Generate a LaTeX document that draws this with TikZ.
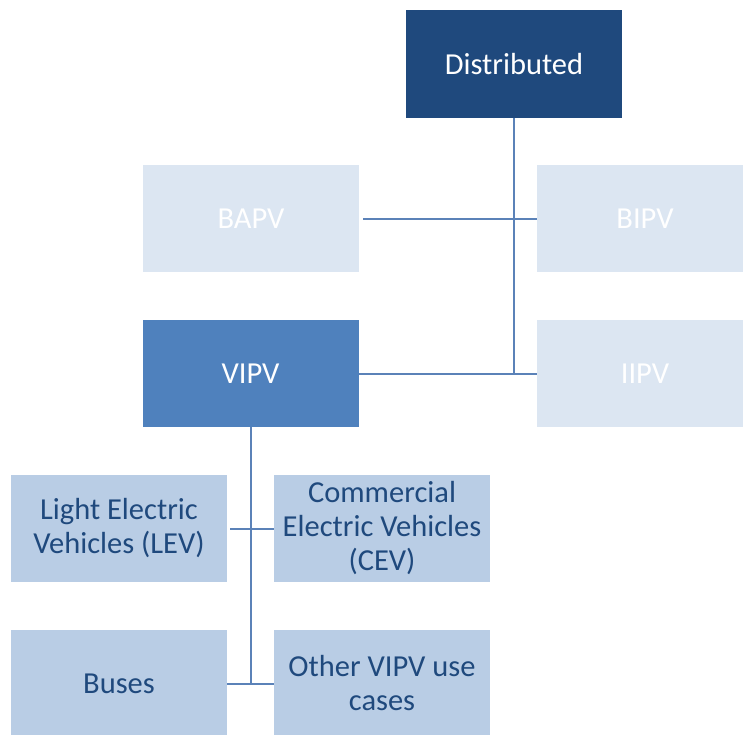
\documentclass[tikz,border=0pt]{standalone}
\usepackage{fontspec}
\setmainfont{Carlito}
\definecolor{navy}{HTML}{1F497D}
\definecolor{midblue}{HTML}{4F81BD}
\definecolor{paleblue}{HTML}{DCE6F2}
\definecolor{softblue}{HTML}{B9CDE5}
\definecolor{linkblue}{HTML}{5B82B8}
\begin{document}
\begin{tikzpicture}[x=1pt,y=-1pt,
  box/.style={rectangle, inner sep=4pt, minimum width=216pt, minimum height=107pt,
    align=center, font=\fontsize{30.5}{34}\selectfont},
  topbox/.style={box, fill=navy, text=white},
  vbox/.style={box, fill=midblue, text=white},
  ghost/.style={box, fill=paleblue, text=white},
  leaf/.style={box, fill=softblue, text=navy},
  link/.style={draw=linkblue, line width=2pt}]
\useasboundingbox (0,0) rectangle (743,734);

\node[topbox, minimum height=108pt] (dist) at (514,64) {Distributed};
\node[ghost] (bapv) at (251,218.5) {BAPV};
\node[ghost] (bipv) at (645,218.5) {BIPV};
\node[vbox] (vipv) at (250.5,373.5) {VIPV};
\node[ghost] (iipv) at (645,373.5) {IIPV};
\node[leaf] (lev) at (119,528.5) {Light Electric\\Vehicles (LEV)};
\node[leaf] (cev) at (382,528.5) {Commercial\\Electric Vehicles\\(CEV)};
\node[leaf] (bus) at (119,683.5) {Buses};
\node[leaf] (oth) at (382,683.5) {Other VIPV use\\cases};

% trunk from the distributed node and its branches
\draw[link] (dist.south) -- (dist.south |- iipv.west);
\draw[link] ([xshift=4pt]bapv.east) -- (bipv.west);
\draw[link] (vipv.east) -- (iipv.west);

% trunk below VIPV and its branches
\draw[link] (vipv.south) -- (vipv.south |- bus.east);
\draw[link] ([xshift=3pt]lev.east) -- (cev.west);
\draw[link] (bus.east) -- (oth.west);
\end{tikzpicture}
\end{document}
